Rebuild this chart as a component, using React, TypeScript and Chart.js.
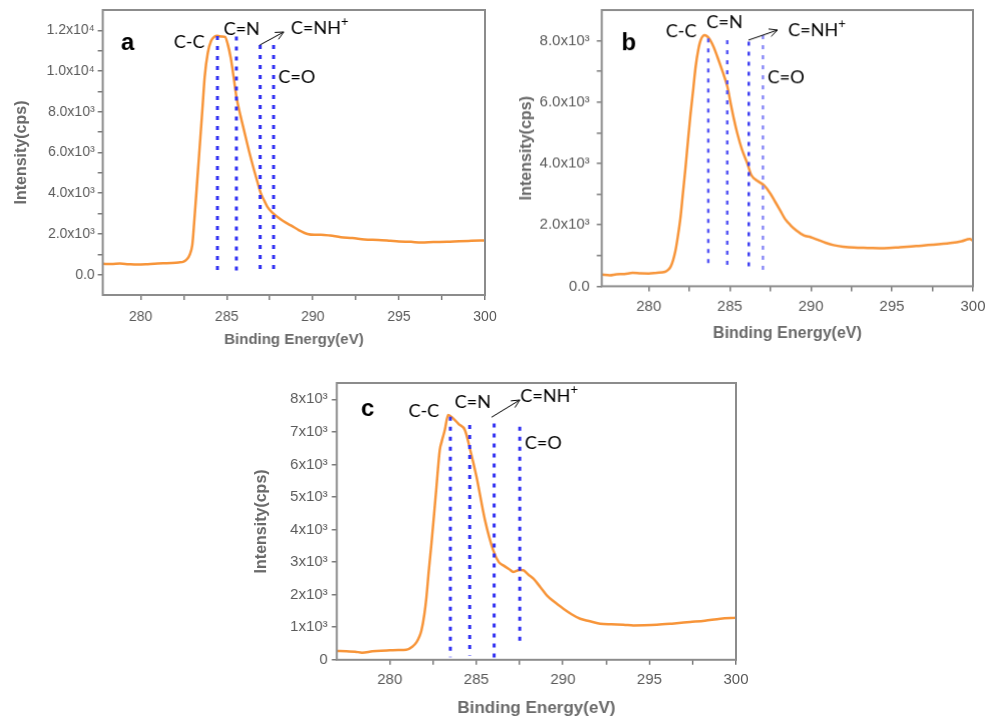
import React, { useEffect, useRef } from "react";
import { Chart, registerables } from "chart.js";

Chart.register(...registerables);

// ---------- shared axis ticks ----------
const xTickValues = [280, 282.5, 285, 287.5, 290, 292.5, 295, 297.5, 300];
const xTickLabels = ["280", "", "285", "", "290", "", "295", "", "300"];
const peakNames = ["C-C", "C=N", "C=NH", "C=O"];
const xAxisTitle = "Binding Energy(eV)";
const yAxisTitle = "Intensity(cps)";

// ---------- panel a ----------
const energyA = [277.8, 278.3, 278.8, 279.3, 279.8, 280.3, 280.8, 281.3, 281.8, 282.2, 282.5, 282.7, 282.85, 283.0, 283.06, 283.2, 283.4, 283.6, 283.72, 283.9, 284.1, 284.3, 284.45, 284.7, 284.9, 285.05, 285.23, 285.4, 285.56, 285.8, 286.0, 286.3, 286.59, 286.8, 286.98, 287.2, 287.37, 287.65, 287.95, 288.3, 288.72, 289.2, 289.69, 290.1, 290.47, 291.0, 291.63, 292.3, 293.0, 293.8, 294.5, 295.0, 295.7, 296.3, 297.0, 297.8, 298.5, 299.2, 300.0];
const intensityA = [530, 520, 545, 515, 495, 510, 540, 560, 575, 600, 640, 770, 980, 1450, 2000, 3600, 5950, 8300, 9730, 10900, 11500, 11700, 11730, 11700, 11680, 11350, 10650, 9700, 8740, 7800, 7100, 6050, 5130, 4500, 3990, 3600, 3320, 3050, 2830, 2620, 2420, 2180, 2000, 1960, 1960, 1920, 1840, 1800, 1730, 1700, 1660, 1630, 1610, 1580, 1600, 1610, 1640, 1660, 1680];
const yTickValuesA = [0, 1000, 2000, 3000, 4000, 5000, 6000, 7000, 8000, 9000, 10000, 11000, 12000];
const yTickLabelsA = ["0.0", "", "2.0x10³", "", "4.0x10³", "", "6.0x10³", "", "8.0x10³", "", "1.0x10⁴", "", "1.2x10⁴"];
const markerEnergiesA = [284.46, 285.56, 286.94, 287.72];
const markerTopsA = [11720, 11700, 11280, 11280];
const markerBottomsA = [140, -20, 90, 90];
const nameEnergiesA = [282.82, 285.87, 290.38, 289.07];
const nameIntensitiesA = [11430, 12070, 12110, 9710];
const letterA = { text: "a", x: 279.24, y: 11380 };
const arrowEnergiesA = [286.92, 288.31];
const arrowIntensitiesA = [11280, 11920];

// ---------- panel b ----------
const energyB = [277.1, 277.6, 278.0, 278.5, 279.0, 279.5, 280.0, 280.5, 281.0, 281.2, 281.34, 281.5, 281.65, 281.8, 281.96, 282.1, 282.27, 282.42, 282.58, 282.75, 282.89, 283.05, 283.2, 283.45, 283.72, 284.0, 284.23, 284.55, 284.85, 285.05, 285.25, 285.46, 285.75, 286.08, 286.3, 286.5, 286.8, 287.1, 287.5, 287.8, 288.1, 288.4, 288.74, 289.1, 289.56, 290.0, 290.4, 290.9, 291.4, 292.0, 292.65, 293.5, 294.5, 295.5, 296.5, 297.5, 298.6, 299.3, 299.8, 300.0];
const intensityB = [380, 360, 390, 400, 435, 420, 415, 440, 470, 540, 630, 850, 1170, 1650, 2260, 3000, 3890, 4750, 5630, 6450, 7150, 7700, 8020, 8180, 8075, 7800, 7480, 7000, 6500, 5960, 5450, 4980, 4450, 4000, 3650, 3510, 3400, 3290, 3020, 2750, 2480, 2200, 1990, 1820, 1660, 1600, 1520, 1420, 1340, 1290, 1260, 1250, 1240, 1270, 1310, 1350, 1410, 1470, 1540, 1480];
const yTickValuesB = [0, 1000, 2000, 3000, 4000, 5000, 6000, 7000, 8000];
const yTickLabelsB = ["0.0", "", "2.0x10³", "", "4.0x10³", "", "6.0x10³", "", "8.0x10³"];
const markerEnergiesB = [283.67, 284.84, 286.17, 287.04];
const markerTopsB = [8075, 8020, 7970, 8180];
const markerBottomsB = [630, 630, 550, 390];
const nameEnergiesB = [282.0, 284.67, 290.35, 288.47];
const nameIntensitiesB = [8315, 8586, 8348, 6815];
const letterB = { text: "b", x: 278.77, y: 7924 };
const arrowEnergiesB = [286.15, 287.94];
const arrowIntensitiesB = [8022, 8348];

// ---------- panel c ----------
const energyC = [276.94, 277.5, 278.0, 278.4, 279.0, 279.5, 280.0, 280.5, 280.96, 281.3, 281.55, 281.7, 281.83, 282.0, 282.12, 282.25, 282.41, 282.55, 282.7, 282.89, 283.0, 283.18, 283.37, 283.66, 284.0, 284.34, 284.63, 285.01, 285.5, 285.98, 286.3, 286.56, 286.9, 287.14, 287.5, 287.72, 288.0, 288.3, 288.7, 289.07, 289.5, 290.03, 290.5, 291.0, 291.5, 292.15, 292.8, 293.5, 294.08, 294.7, 295.43, 296.3, 297.35, 298.2, 299.1, 300.0];
const intensityC = [270, 260, 250, 220, 260, 280, 290, 300, 306, 400, 542, 700, 900, 1400, 1928, 2700, 3570, 4400, 5310, 6440, 6700, 7055, 7517, 7415, 7230, 7055, 6490, 5620, 4290, 3360, 3000, 2900, 2780, 2700, 2760, 2750, 2620, 2490, 2230, 1980, 1780, 1570, 1400, 1260, 1190, 1110, 1090, 1080, 1055, 1060, 1075, 1110, 1160, 1200, 1260, 1290];
const yTickValuesC = [0, 1000, 2000, 3000, 4000, 5000, 6000, 7000, 8000];
const yTickLabelsC = ["0", "1x10³", "2x10³", "3x10³", "4x10³", "5x10³", "6x10³", "7x10³", "8x10³"];
const markerEnergiesC = [283.5, 284.62, 286.03, 287.51];
const markerTopsC = [7465, 7210, 7260, 7160];
const markerBottomsC = [80, 130, 0, 410];
const nameEnergiesC = [281.97, 284.8, 289.19, 288.87];
const nameIntensitiesC = [7641, 7917, 8101, 6659];
const letterC = { text: "c", x: 278.73, y: 7702 };
const arrowEnergiesC = [285.88, 287.51];
const arrowIntensitiesC = [7448, 7978];

// ---------- styling / layout ----------
const CURVE = "#f7953a";
const TICK_FONT = "'Liberation Sans', Arial, sans-serif";
const NOTE_FONT = "Lato, 'Open Sans', sans-serif";

type PanelCfg = {
  plot: { l: number; t: number; r: number; b: number };
  yTitleX: number;
  xTitleY: number;
  xMin: number;
  xMax: number;
  yMin: number;
  yMax: number;
  energy: number[];
  intensity: number[];
  yTicks: number[];
  yLabels: string[];
  mE: number[];
  mTop: number[];
  mBot: number[];
  mColors: string[];
  mWidth: number;
  nE: number[];
  nI: number[];
  letter: { text: string; x: number; y: number };
  aE: number[];
  aI: number[];
  xTitleSize: number;
  tickSize: number;
  xTickPad: number;
  yTickPad: number;
};

const panels: PanelCfg[] = [
  {
    plot: { l: 103, t: 10, r: 485, b: 295 }, yTitleX: 22, xTitleY: 340,
    xMin: 277.8, xMax: 300, yMin: -1000, yMax: 13000,
    energy: energyA, intensity: intensityA, yTicks: yTickValuesA, yLabels: yTickLabelsA,
    mE: markerEnergiesA, mTop: markerTopsA, mBot: markerBottomsA,
    mColors: ["#2f2ff2", "#2f2ff2", "#2f2ff2", "#2f2ff2"], mWidth: 3,
    nE: nameEnergiesA, nI: nameIntensitiesA, letter: letterA, aE: arrowEnergiesA, aI: arrowIntensitiesA,
    xTitleSize: 15, tickSize: 14, xTickPad: 9, yTickPad: 3,
  },
  {
    plot: { l: 602, t: 10, r: 973, b: 286 }, yTitleX: 527, xTitleY: 333,
    xMin: 277.1, xMax: 300, yMin: 0, yMax: 9000,
    energy: energyB, intensity: intensityB, yTicks: yTickValuesB, yLabels: yTickLabelsB,
    mE: markerEnergiesB, mTop: markerTopsB, mBot: markerBottomsB,
    mColors: ["#5555f5", "#5555f5", "#3b3bf2", "#8c8cf7"], mWidth: 2.5,
    nE: nameEnergiesB, nI: nameIntensitiesB, letter: letterB, aE: arrowEnergiesB, aI: arrowIntensitiesB,
    xTitleSize: 16, tickSize: 15, xTickPad: 6, yTickPad: 7,
  },
  {
    plot: { l: 337, t: 383, r: 736, b: 660 }, yTitleX: 262, xTitleY: 709,
    xMin: 276.94, xMax: 300, yMin: 0, yMax: 8500,
    energy: energyC, intensity: intensityC, yTicks: yTickValuesC, yLabels: yTickLabelsC,
    mE: markerEnergiesC, mTop: markerTopsC, mBot: markerBottomsC,
    mColors: ["#2f2ff2", "#2f2ff2", "#2f2ff2", "#2f2ff2"], mWidth: 3,
    nE: nameEnergiesC, nI: nameIntensitiesC, letter: letterC, aE: arrowEnergiesC, aI: arrowIntensitiesC,
    xTitleSize: 17, tickSize: 15, xTickPad: 6, yTickPad: 4,
  },
];

const PAD_TOP = 20;
const PAD_RIGHT = 25;
const Y_TITLE_SIZE = 16;

function geometry(p: PanelCfg) {
  const yLh = Y_TITLE_SIZE * 1.2;
  const xLh = p.xTitleSize * 1.2;
  const left = p.yTitleX - yLh / 2 - 2;
  const top = p.plot.t - PAD_TOP;
  const bottom = p.xTitleY + xLh / 2 + 2;
  const right = p.plot.r + PAD_RIGHT;
  return {
    left, top, width: right - left, height: bottom - top,
    yAxisWidth: p.plot.l - left, xAxisHeight: bottom - p.plot.b,
  };
}

function Panel({ p }: { p: PanelCfg }) {
  const ref = useRef<HTMLCanvasElement>(null);
  const g = geometry(p);

  useEffect(() => {
    const canvas = ref.current;
    if (!canvas) return;

    const datasets: any[] = p.mE.map((e, i) => ({
      data: [{ x: e, y: p.mTop[i] }, { x: e, y: p.mBot[i] }],
      borderColor: p.mColors[i],
      borderWidth: p.mWidth,
      borderDash: [4, 6],
      borderCapStyle: "butt",
      pointRadius: 0,
      fill: false,
    }));
    datasets.push({
      data: p.energy.map((e, i) => ({ x: e, y: p.intensity[i] })),
      borderColor: CURVE,
      borderWidth: 2.5,
      pointRadius: 0,
      cubicInterpolationMode: "monotone",
      fill: false,
    });

    const notes = {
      id: "notes",
      afterDatasetsDraw(chart: any) {
        const { ctx, chartArea, scales } = chart;
        const xs = scales.x;
        const ys = scales.y;
        ctx.save();
        // frame
        ctx.strokeStyle = "#8c8c8c";
        ctx.lineWidth = 2;
        ctx.strokeRect(chartArea.left, chartArea.top, chartArea.right - chartArea.left, chartArea.bottom - chartArea.top);
        // panel letter
        ctx.fillStyle = "#000";
        ctx.textAlign = "center";
        ctx.textBaseline = "middle";
        ctx.font = `bold 24px ${TICK_FONT}`;
        ctx.fillText(p.letter.text, xs.getPixelForValue(p.letter.x), ys.getPixelForValue(p.letter.y));
        // peak names
        ctx.font = `18px ${NOTE_FONT}`;
        peakNames.forEach((name, i) => {
          const px = xs.getPixelForValue(p.nE[i]);
          const py = ys.getPixelForValue(p.nI[i]);
          if (name === "C=NH") {
            ctx.font = `18px ${NOTE_FONT}`;
            const w = ctx.measureText(name).width;
            const total = w + 7;
            ctx.textAlign = "left";
            ctx.fillText(name, px - total / 2, py);
            ctx.font = `13px ${NOTE_FONT}`;
            ctx.fillText("+", px - total / 2 + w, py - 6);
            ctx.textAlign = "center";
            ctx.font = `18px ${NOTE_FONT}`;
          } else {
            ctx.fillText(name, px, py);
          }
        });
        // arrow
        const x1 = xs.getPixelForValue(p.aE[0]);
        const y1 = ys.getPixelForValue(p.aI[0]);
        const x2 = xs.getPixelForValue(p.aE[1]);
        const y2 = ys.getPixelForValue(p.aI[1]);
        ctx.strokeStyle = "#000";
        ctx.lineWidth = 1;
        ctx.beginPath();
        ctx.moveTo(x1, y1);
        ctx.lineTo(x2, y2);
        const ang = Math.atan2(y2 - y1, x2 - x1);
        const hl = 9;
        ctx.moveTo(x2 - hl * Math.cos(ang - 0.45), y2 - hl * Math.sin(ang - 0.45));
        ctx.lineTo(x2, y2);
        ctx.lineTo(x2 - hl * Math.cos(ang + 0.45), y2 - hl * Math.sin(ang + 0.45));
        ctx.stroke();
        ctx.restore();
      },
    };

    const chart = new Chart(canvas, {
      type: "line",
      data: { datasets },
      plugins: [notes],
      options: {
        animation: false,
        responsive: false,
        maintainAspectRatio: false,
        layout: { padding: { left: 0, top: PAD_TOP, right: PAD_RIGHT, bottom: 0 } },
        plugins: { legend: { display: false }, tooltip: { enabled: false } },
        elements: { line: { borderJoinStyle: "round" } },
        scales: {
          x: {
            type: "linear",
            min: p.xMin,
            max: p.xMax,
            afterBuildTicks: (s: any) => { s.ticks = xTickValues.map((v) => ({ value: v })); },
            afterFit: (s: any) => { s.height = g.xAxisHeight; },
            grid: { display: true, drawOnChartArea: false, drawTicks: true, tickLength: 5, color: "#7a7a7a", lineWidth: 1.5 },
            border: { display: false },
            ticks: {
              autoSkip: false, maxRotation: 0, padding: p.xTickPad, color: "#5a5a5a",
              font: { family: TICK_FONT, size: p.tickSize },
              callback: (v: any) => xTickLabels[xTickValues.indexOf(Number(v))] ?? "",
            },
            title: {
              display: true, text: xAxisTitle, color: "#6a6a6a",
              font: { family: TICK_FONT, size: p.xTitleSize, weight: "bold" },
              padding: { top: 0, bottom: 2 },
            },
          },
          y: {
            type: "linear",
            min: p.yMin,
            max: p.yMax,
            afterBuildTicks: (s: any) => { s.ticks = p.yTicks.map((v) => ({ value: v })); },
            afterFit: (s: any) => { s.width = g.yAxisWidth; },
            grid: { display: true, drawOnChartArea: false, drawTicks: true, tickLength: 5, color: "#7a7a7a", lineWidth: 1.5 },
            border: { display: false },
            ticks: {
              autoSkip: false, padding: p.yTickPad, color: "#5a5a5a",
              font: { family: TICK_FONT, size: p.tickSize },
              callback: (v: any) => p.yLabels[p.yTicks.indexOf(Number(v))] ?? "",
            },
            title: {
              display: true, text: yAxisTitle, color: "#6a6a6a",
              font: { family: TICK_FONT, size: Y_TITLE_SIZE, weight: "bold" },
              padding: { top: 2, bottom: 0 },
            },
          },
        },
      } as any,
    });
    return () => chart.destroy();
  }, []);

  return (
    <canvas
      ref={ref}
      width={g.width}
      height={g.height}
      style={{ position: "absolute", left: g.left, top: g.top, width: g.width, height: g.height }}
    />
  );
}

export default function App() {
  return (
    <div style={{ position: "absolute", left: 0, top: 0, width: 998, height: 718, background: "#fff", overflow: "hidden" }}>
      {panels.map((p, i) => (
        <Panel key={i} p={p} />
      ))}
    </div>
  );
}
